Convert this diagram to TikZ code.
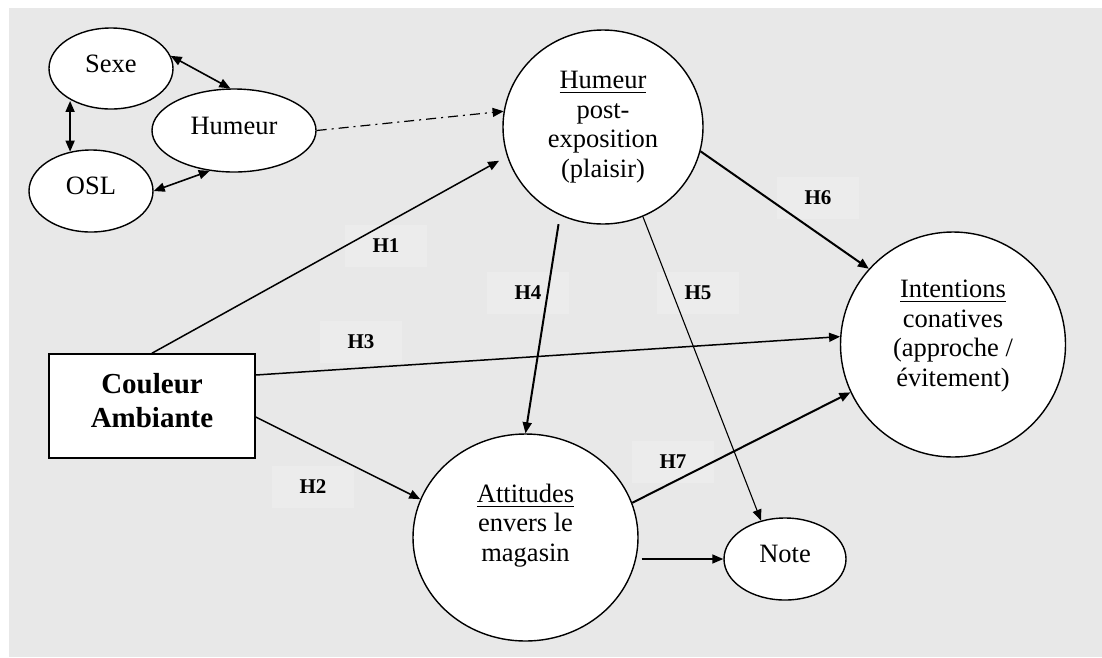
\documentclass[tikz,border=0pt]{standalone}
\usepackage{fontspec}
\setmainfont{Liberation Serif}
\usepackage{xcolor}
\usepackage{tikz}
\usetikzlibrary{shapes.geometric, arrows.meta}
\definecolor{PanelGray}{HTML}{E8E8E8}
\definecolor{LabelGray}{HTML}{ECECEC}
\newcommand{\undl}[1]{\vtop{\hbox{#1}\kern3pt\hrule height 1.4pt}}

\begin{document}
\begin{tikzpicture}[x=1pt, y=-1pt,
  every node/.style={font=\fontsize{26.5}{29.5}\selectfont},
  var/.style={draw, ellipse, fill=white, line width=1.4pt, inner sep=0pt, align=center},
  obs/.style={var, text depth=10pt},
  hyp/.style={fill=LabelGray, minimum width=82pt, minimum height=42pt, inner sep=0pt,
    font=\bfseries\fontsize{21}{24}\selectfont},
  link/.style={-{Triangle[length=11pt, width=9pt]}, line width=1.5pt},
  both/.style={{Triangle[length=11pt, width=9pt]}-{Triangle[length=11pt, width=9pt]}, line width=1.6pt}]
  \useasboundingbox (0,0) rectangle (1102,657);
  % Panel
  \fill[white] (0,0) rectangle (1102,657);
  \fill[PanelGray] (9,7.5) rectangle (1102,657);
  % Hypothesis labels
  \foreach \h/\px/\py in {H1/386/245.5, H2/313/487, H3/361/342, H4/528/293,
                          H5/698/293, H6/818/198, H7/673/462}
    \node[hyp] (\h) at (\px,\py) {\h};
  % Moderators
  \node[obs, minimum width=124pt, minimum height=81pt] (sexe) at (111,68.5) {Sexe};
  \node[obs, minimum width=164pt, minimum height=83pt] (humeur) at (234,130.5) {Humeur};
  \node[obs, minimum width=124pt, minimum height=82pt] (osl) at (91,191) {OSL};
  % Constructs
  \node[draw, fill=white, line width=1.6pt, minimum width=206pt, minimum height=104pt,
    font=\bfseries\fontsize{29}{34}\selectfont, align=center] (couleur) at (152,406)
    {Couleur\\Ambiante\\[-22pt]\mbox{}};
  \node[var, minimum width=200pt, minimum height=194pt] (plaisir) at (603,127)
    {\undl{Humeur}\\post-\\exposition\\(plaisir)};
  \node[var, circle, minimum size=225pt] (intent) at (953,344.5)
    {\undl{Intentions}\\conatives\\(approche /\\évitement)\\[-7pt]\mbox{}};
  \node[var, minimum width=225pt, minimum height=207pt] (attit) at (525.5,537.5)
    {\undl{Attitudes}\\envers le\\magasin\\ \mbox{}};
  \node[obs, minimum width=122pt, minimum height=82pt] (note) at (785,559) {Note};
  % Correlations
  \draw[both] (sexe.12) -- (humeur.95);
  \draw[both] (osl.118) -- (osl.118 |- sexe.220);
  \draw[both] (osl.east) -- (humeur.239);
  \draw[link, line width=1.2pt, dash pattern=on 10pt off 5pt on 2pt off 5pt]
    (humeur.east) -- (plaisir.171);
  % Paths
  \draw[link, shorten >=9pt] (couleur.north) -- (plaisir.197);          % H1
  \draw[link] ([yshift=-11pt]couleur.east) -- (attit.160);              % H2
  \draw[link] ([yshift=31pt]couleur.east) -- (intent.176);              % H3
  \draw[link, line width=2pt, shorten <=9pt] (plaisir.244) -- (attit.north); % H4
  \draw[link, line width=1.1pt] (plaisir.294) -- (note.122);            % H5
  \draw[link, line width=2pt] (plaisir.346) -- (intent.138);            % H6
  \draw[link, line width=2pt] (attit.18) -- (intent.205);               % H7
  \draw[link, shorten <=3pt] (attit.east |- note.west) -- (note.west);
\end{tikzpicture}
\end{document}
